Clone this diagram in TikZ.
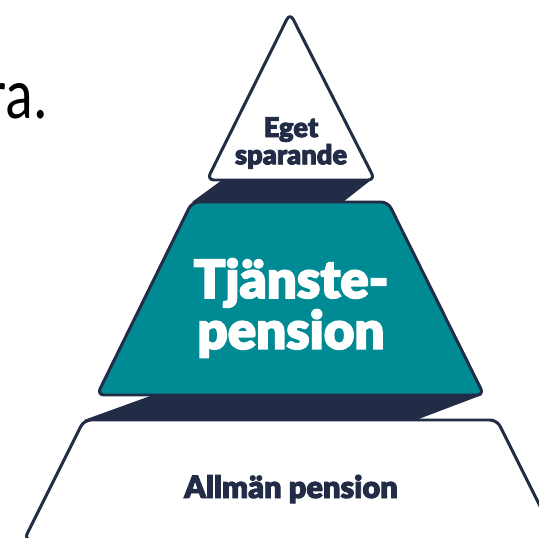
\documentclass[tikz,border=0pt]{standalone}
\usepackage{fontspec}
\setmainfont{Carlito}
\newfontfamily\heavyfont{Lato Black}[FakeBold=3]
\usetikzlibrary{positioning}
\definecolor{navy}{HTML}{222C47}
\definecolor{teal}{HTML}{008B94}

\begin{document}
\begin{tikzpicture}[x=0.02cm,y=-0.02cm,
	level/.style={draw=navy,line width=1.7pt,rounded corners=4pt,line join=round},
	shade/.style={fill=navy},
	label/.style={font=\heavyfont,align=center,inner sep=0pt}]
		\useasboundingbox (0,0) rectangle (539,538);

		% shadows between the levels
		\fill[shade] (222,180) -- (371,180) -- (343,202) -- (192,202) -- cycle;
		\fill[shade] (153,395) -- (482,395) -- (416,420) -- (84,420) -- cycle;

		% the three levels
		\draw[level,fill=white] (290,13) -- (375,180) -- (207,180) -- cycle;
		\draw[level,fill=teal] (192,202) -- (388,202) -- (484,395) -- (97,395) -- cycle;
		\draw[level,fill=white] (84,420) -- (497,420) -- (557,540) -- (24,540) -- cycle;

		\draw (291,143) node[label,text=navy,font=\heavyfont\fontsize{15.5}{15.5}\selectfont] (eget){Eget\\sparande}
		(291,308) node[label,text=white,font=\heavyfont\fontsize{30}{29}\selectfont] (tjanste){Tjänste-\\pension}
		(291,489) node[label,text=navy,font=\heavyfont\fontsize{17.5}{18}\selectfont] (allman){Allmän pension}
		(48,118) node[anchor=base east,inner sep=0pt,font=\fontsize{41}{48}\selectfont] (ra){\scalebox{0.8}[1]{ra.}};
	\end{tikzpicture}
\end{document}
